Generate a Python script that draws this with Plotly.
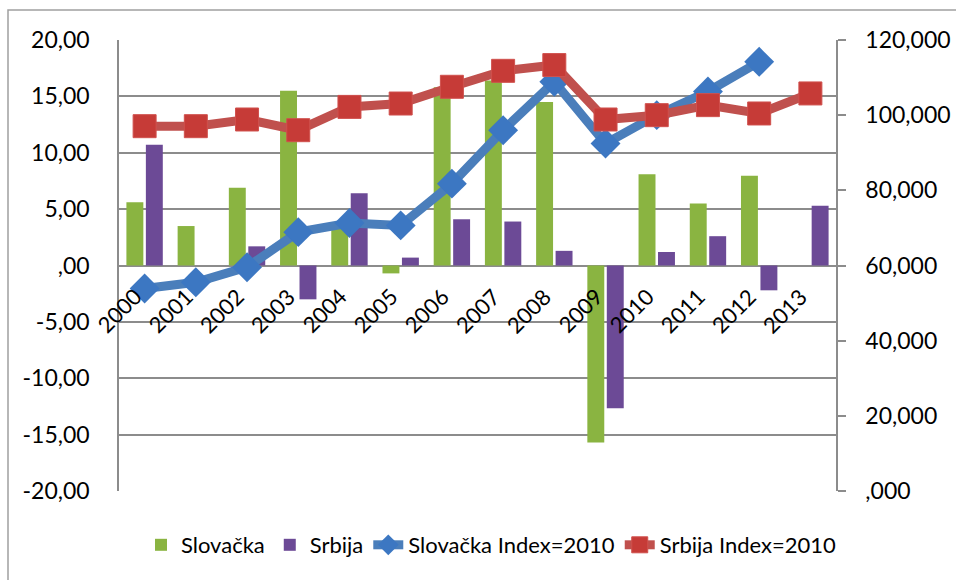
import plotly.graph_objects as go

years = [str(y) for y in range(2000, 2014)]
slovacka = [5.6, 3.5, 6.9, 15.5, 3.3, -0.7, 15.8, 16.4, 14.5, -15.7, 8.1, 5.5, 7.95, None]
srbija = [10.7, None, 1.7, -3.0, 6.4, 0.7, 4.1, 3.9, 1.3, -12.65, 1.2, 2.6, -2.2, 5.3]
slovacka_idx = [53870, 55550, 59550, 68880, 71290, 70670, 81780, 96000, 108900, 92450, 100000, 106300, 114200, None]
srbija_idx = [97070, 97070, 98850, 96000, 102200, 103100, 107550, 111800, 113330, 98850, 100000, 102670, 100450, 105780]

left_ticks = [20, 15, 10, 5, 0, -5, -10, -15, -20]
left_labels = ["20,00", "15,00", "10,00", "5,00", ",00", "-5,00", "-10,00", "-15,00", "-20,00"]
right_ticks = [120000, 100000, 80000, 60000, 40000, 20000, 0]
right_labels = ["120,000", "100,000", "80,000", "60,000", "40,000", "20,000", ",000"]

FONT = "Lato"
fig = go.Figure()
fig.add_trace(go.Bar(x=years, y=slovacka, name="Slovačka", marker_color="#8AB441",
                     marker_line_width=0))
fig.add_trace(go.Bar(x=years, y=srbija, name="Srbija", marker_color="#6C4A96",
                     marker_line_width=0))
fig.add_trace(go.Scatter(x=years, y=slovacka_idx, name="Slovačka Index=2010", yaxis="y2",
                         mode="lines+markers", line=dict(color="#4A7EBB", width=9),
                         marker=dict(symbol="diamond", size=23, color="#3C77C2")))
fig.add_trace(go.Scatter(x=years, y=srbija_idx, name="Srbija Index=2010", yaxis="y2",
                         mode="lines+markers", line=dict(color="#C0504D", width=9),
                         marker=dict(symbol="square", size=23, color="#C63B37",
                                     line=dict(color="#D0504D", width=1))))

annotations = []
for i, yr in enumerate(years):
    annotations.append(dict(x=i, y=-0.6, xref="x", yref="y", text=yr, showarrow=False,
                            textangle=-45, xanchor="right", yanchor="top",
                            xshift=5, yshift=-8,
                            font=dict(family=FONT, size=22, color="black")))

W, H = 956, 580
L, R, T, B = 119, 836, 40, 491
pw, ph = R - L, B - T
def px(x):
    return (x - L) / pw
def py(y):
    return (B - y) / ph

fig.update_layout(
    width=W, height=H,
    margin=dict(l=L, r=W - R, t=T, b=H - B),
    paper_bgcolor="white", plot_bgcolor="white",
    barmode="group", bargap=0.24, bargroupgap=0.13,
    font=dict(family=FONT, size=22, color="black"),
    showlegend=True,
    legend=dict(orientation="h", x=px(491), xanchor="center", y=py(545), yanchor="middle",
                font=dict(family=FONT, size=22), tracegroupgap=0,
                traceorder="normal"),
    xaxis=dict(type="category", range=[-0.5, len(years) - 0.5], autorange=False,
               showticklabels=False, showgrid=False, zeroline=False,
               showline=False, ticks="", automargin=False),
    yaxis=dict(range=[-20, 20], tickvals=left_ticks, ticktext=left_labels,
               showgrid=True, gridcolor="#8C8C8C", gridwidth=1.5, zeroline=True,
               zerolinecolor="#8C8C8C", zerolinewidth=1.5, automargin=False,
               showline=True, linecolor="#8C8C8C", linewidth=1.5, ticks="", ticklen=0,
               ticklabelstandoff=23,
               tickfont=dict(family=FONT, size=23)),
    yaxis2=dict(range=[0, 120000], tickvals=right_ticks, ticktext=right_labels,
                overlaying="y", side="right", showgrid=False, zeroline=False,
                showline=True, linecolor="#8C8C8C", linewidth=1.5, automargin=False,
                ticks="outside", ticklen=8, tickcolor="#8C8C8C", tickwidth=1.5,
                ticklabelstandoff=15,
                tickfont=dict(family=FONT, size=23)),
    annotations=annotations,
    shapes=[dict(type="rect", xref="paper", yref="paper",
                 x0=px(8), x1=px(960), y0=py(590), y1=py(10),
                 line=dict(color="#A0A0A0", width=1.5), fillcolor="rgba(0,0,0,0)",
                 layer="below")],
)
fig.write_html("out.html", config={"displayModeBar": False},
               post_script="document.body.style.margin='0px';")
